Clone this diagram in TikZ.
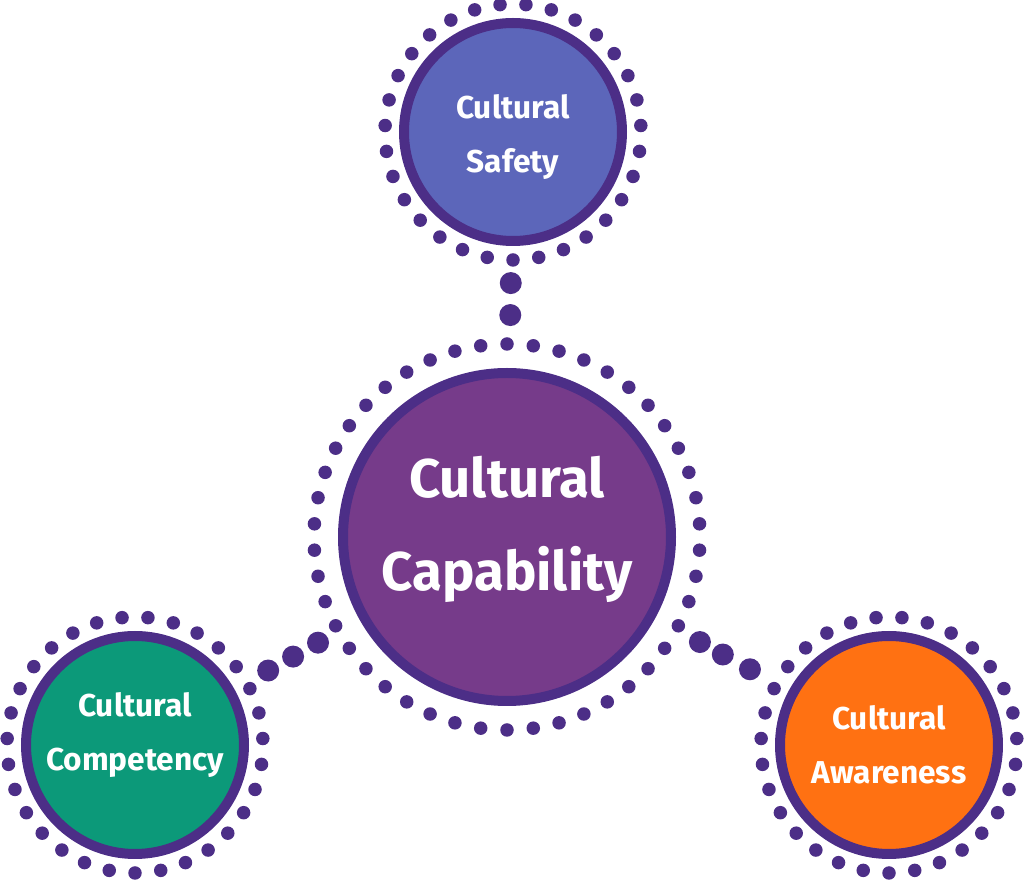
\documentclass[tikz,border=0pt]{standalone}
\usepackage{fontspec}
\setmainfont{Fira Sans}
\definecolor{ringpurple}{RGB}{76,46,135}
\definecolor{capfill}{RGB}{118,59,138}
\definecolor{saffill}{RGB}{92,102,186}
\definecolor{comfill}{RGB}{12,153,121}
\definecolor{awafill}{RGB}{255,113,18}
\begin{document}
\begin{tikzpicture}[
  disc/.style={circle,draw=ringpurple,line width=0.2cm,inner sep=0pt,minimum size=4.36cm},
  bigdisc/.style={disc,minimum size=6.56cm},
  bead/.style={circle,fill=ringpurple,inner sep=0pt,minimum size=0.44cm},
  lbl/.style={text=white,align=center,font=\bfseries\fontsize{18}{30.5}\selectfont},
  biglbl/.style={lbl,font=\bfseries\fontsize{31}{53}\selectfont}]
\useasboundingbox (0,0) rectangle (20.48,17.6);
% Circles
\node[bigdisc,fill=capfill] (cap) at (10.14,6.86) {};
\node[disc,fill=saffill] (saf) at (10.26,14.96) {};
\node[disc,fill=comfill] (com) at (2.70,2.70) {};
\node[disc,fill=awafill] (awa) at (17.78,2.70) {};
% Dot rings
\foreach \c in {saf,com,awa}
  \foreach \i in {0,...,30}
    \fill[ringpurple] (\c.center) ++(-90+\i*360/31:2.56) circle (0.135);
\foreach \i in {0,...,45}
  \fill[ringpurple] (cap.center) ++(90+\i*360/46:3.86) circle (0.135);
% Dotted connectors
\path (cap.center) -- (saf.center) node[bead,pos=0.548] (s1) {} node[bead,pos=0.627] (s2) {};
\foreach \p [count=\i] in {0.508,0.575,0.642}
  \path (cap.center) -- (com.center) node[bead,pos=\p] (c\i) {};
\foreach \p [count=\i] in {0.505,0.565,0.636}
  \path (cap.center) -- (awa.center) node[bead,pos=\p] (a\i) {};
% Labels
\node[biglbl] (capt) at ([yshift=0.16cm]cap.center) {Cultural\\Capability};
\node[lbl] (saft) at ([yshift=-0.1cm]saf.center) {Cultural\\Safety};
\node[lbl] (comt) at ([yshift=0.2cm]com.center) {Cultural\\Competency};
\node[lbl] (awat) at (awa.center) {Cultural\\Awareness};
\end{tikzpicture}
\end{document}
